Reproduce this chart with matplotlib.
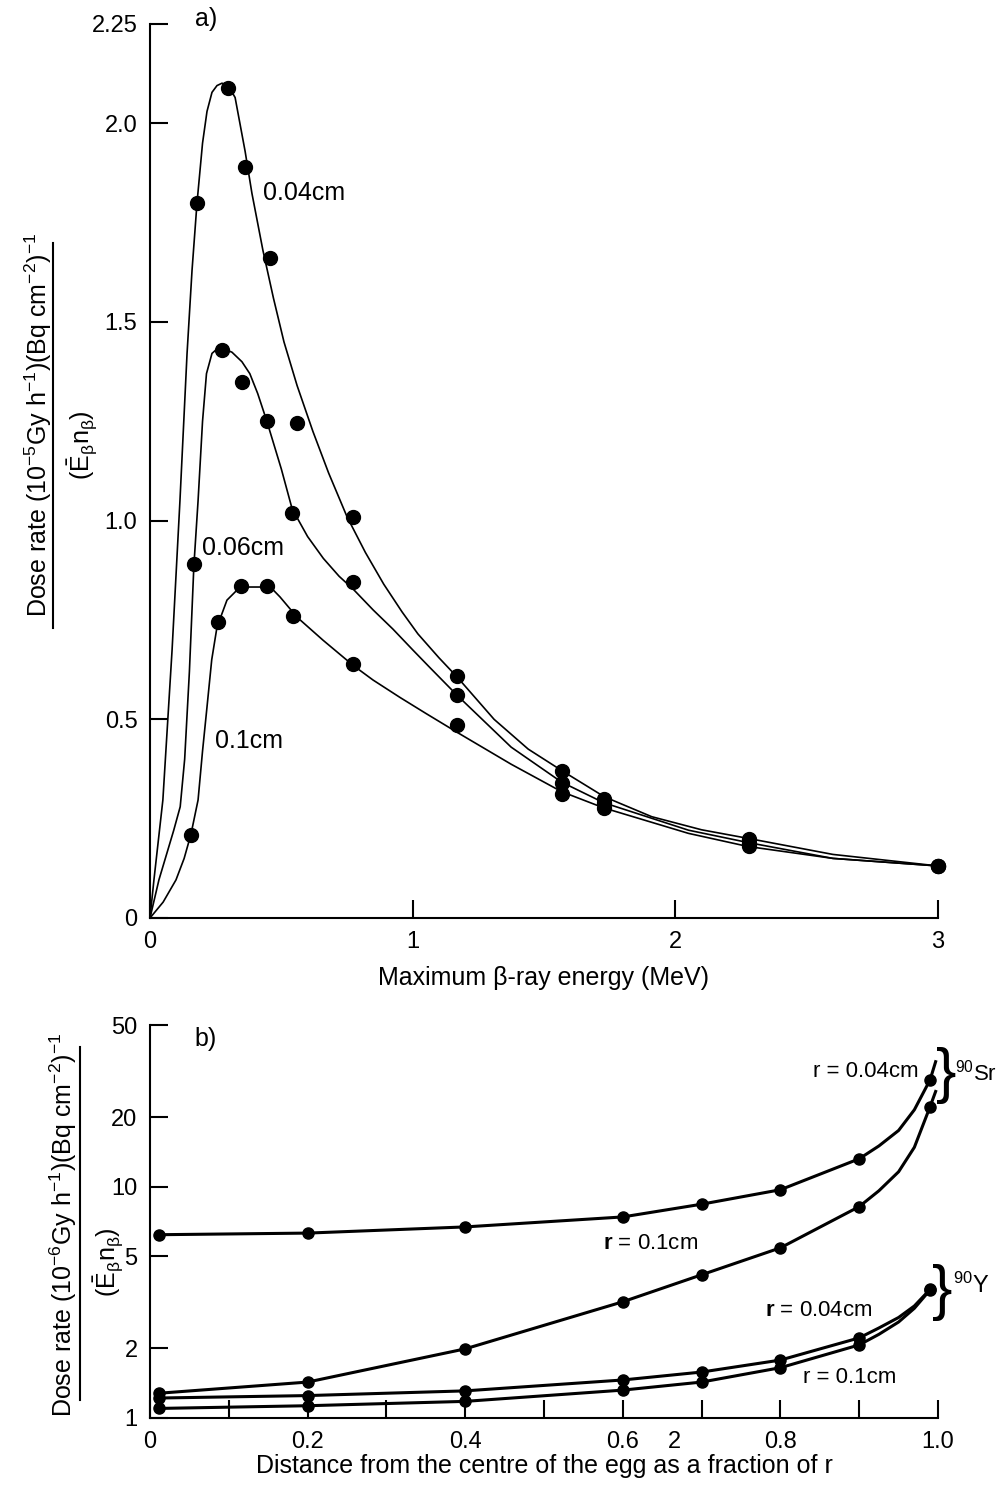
import matplotlib
matplotlib.use("Agg")
import matplotlib.pyplot as plt
from matplotlib.lines import Line2D
from matplotlib.ticker import NullLocator

plt.rcParams.update({
    "font.family": ["Liberation Sans", "DejaVu Sans"],
    "mathtext.fontset": "custom",
    "mathtext.rm": "Liberation Sans",
    "mathtext.it": "Liberation Sans",
    "mathtext.bf": "Liberation Sans:bold",
    "axes.spines.top": False,
    "axes.spines.right": False,
    "axes.linewidth": 1.5,
})

# ---- panel a: dose rate vs max beta energy ----
# smooth curves
a04_x = [0, 0.015, 0.049, 0.084, 0.114, 0.141, 0.16, 0.179, 0.20, 0.217, 0.236, 0.255, 0.274,
         0.297, 0.324, 0.362, 0.388, 0.43, 0.47, 0.51, 0.56, 0.62, 0.68, 0.75, 0.82, 0.89,
         0.96, 1.02, 1.10, 1.17, 1.31, 1.44, 1.57, 1.73, 1.91, 2.1, 2.28, 2.6, 3.0]
a04_y = [0, 0.096, 0.297, 0.674, 1.05, 1.42, 1.63, 1.80, 1.95, 2.03, 2.078, 2.095, 2.101,
         2.096, 2.065, 1.93, 1.824, 1.68, 1.56, 1.45, 1.34, 1.225, 1.12, 1.01, 0.92, 0.84,
         0.77, 0.715, 0.655, 0.606, 0.50, 0.425, 0.37, 0.305, 0.255, 0.222, 0.20, 0.16, 0.131]
a06_x = [0, 0.034, 0.09, 0.115, 0.132, 0.15, 0.167, 0.183, 0.20, 0.215, 0.236, 0.255, 0.274,
         0.312, 0.35, 0.38, 0.41, 0.445, 0.50, 0.541, 0.60, 0.66, 0.72, 0.773, 0.85, 0.925,
         1.0, 1.066, 1.17, 1.375, 1.567, 1.728, 2.05, 2.276, 2.6, 3.0]
a06_y = [0, 0.096, 0.22, 0.28, 0.40, 0.62, 0.886, 1.05, 1.25, 1.37, 1.421, 1.432, 1.434,
         1.424, 1.40, 1.37, 1.32, 1.25, 1.13, 1.03, 0.96, 0.905, 0.86, 0.828, 0.775, 0.727,
         0.675, 0.63, 0.56, 0.43, 0.342, 0.29, 0.221, 0.19, 0.15, 0.131]
a10_x = [0, 0.05, 0.099, 0.13, 0.156, 0.183, 0.20, 0.217, 0.235, 0.255, 0.293, 0.343, 0.445,
         0.47, 0.495, 0.56, 0.659, 0.773, 0.849, 0.952, 1.05, 1.17, 1.375, 1.567, 1.728, 2.05,
         2.276, 2.6, 3.0]
a10_y = [0, 0.04, 0.096, 0.15, 0.211, 0.297, 0.42, 0.531, 0.65, 0.732, 0.80, 0.833, 0.833,
         0.825, 0.808, 0.757, 0.699, 0.636, 0.599, 0.555, 0.515, 0.467, 0.387, 0.318, 0.277,
         0.213, 0.18, 0.15, 0.131]

# calculated points
p04_x = [0.179, 0.297, 0.362, 0.457, 0.773, 1.17, 1.57, 1.73, 2.28, 3.0]
p04_y = [1.80, 2.09, 1.89, 1.66, 1.01, 0.61, 0.37, 0.30, 0.20, 0.131]
p06_x = [0.167, 0.274, 0.350, 0.445, 0.559, 0.541, 0.773, 1.17, 1.57, 1.73, 2.28, 3.0]
p06_y = [0.89, 1.43, 1.35, 1.25, 1.245, 1.02, 0.845, 0.56, 0.34, 0.29, 0.19, 0.131]
p10_x = [0.156, 0.259, 0.346, 0.445, 0.544, 0.773, 1.17, 1.57, 1.73, 2.28, 3.0]
p10_y = [0.21, 0.745, 0.835, 0.835, 0.76, 0.64, 0.485, 0.312, 0.277, 0.18, 0.131]

# ---- panel b: dose rate vs distance from centre ----
b_x = [0.012, 0.2, 0.4, 0.6, 0.7, 0.8, 0.9, 0.99]
sr04 = [6.2, 6.3, 6.7, 7.4, 8.4, 9.7, 13.2, 29.0]
sr10 = [1.28, 1.43, 1.99, 3.18, 4.16, 5.44, 8.2, 22.2]
y04 = [1.22, 1.25, 1.31, 1.46, 1.58, 1.78, 2.22, 3.6]
y10 = [1.10, 1.13, 1.18, 1.32, 1.43, 1.65, 2.07, 3.58]
# drawn curves: the points plus readings of the steep end near the surface
bc_x = [0.012, 0.2, 0.4, 0.6, 0.7, 0.8, 0.9, 0.925, 0.95, 0.97, 0.99]
sr04_c = [6.2, 6.3, 6.7, 7.4, 8.4, 9.7, 13.2, 15.0, 17.5, 21.5, 29.0]
sr10_c = [1.28, 1.43, 1.99, 3.18, 4.16, 5.44, 8.2, 9.6, 11.6, 14.8, 22.2]
y04_c = [1.22, 1.25, 1.31, 1.46, 1.58, 1.78, 2.22, 2.45, 2.72, 3.05, 3.6]
y10_c = [1.10, 1.13, 1.18, 1.32, 1.43, 1.65, 2.07, 2.30, 2.60, 2.98, 3.58]
sr_tail_x = [0.99, 0.997]
sr04_tail = [29.0, 34.7]
sr10_tail = [22.2, 25.8]

W, H = 1000, 1490
fig = plt.figure(figsize=(W / 100, H / 100), dpi=100)

def fx(px):
    return px / W

def fy(py):
    return 1 - py / H

TICK = dict(direction="in", length=13, width=1.5, labelsize=17, pad=9)

# ---------------- panel a ----------------
ax = fig.add_axes([fx(150), fy(918), fx(938) - fx(150), fy(24) - fy(918)])
for cx, cy in [(a04_x, a04_y), (a06_x, a06_y), (a10_x, a10_y)]:
    ax.plot(cx, cy, color="black", lw=1.2)
for px_, py_ in [(p04_x, p04_y), (p06_x, p06_y), (p10_x, p10_y)]:
    ax.plot(px_, py_, "o", color="black", ms=10, clip_on=False)
ax.set_xlim(0, 3)
ax.set_ylim(0, 2.25)
ax.set_xticks([0, 1, 2, 3])
ax.set_xticklabels(["0", "1", "2", "3"])
ax.set_yticks([0, 0.5, 1.0, 1.5, 2.0, 2.25])
ax.set_yticklabels(["0", "0.5", "1.0", "1.5", "2.0", "2.25"])
ax.tick_params(**TICK)
ax.set_xlabel("Maximum \u03b2-ray energy (MeV)", fontsize=18, labelpad=10)
ax.text(0.171, 2.262, "a)", fontsize=18, ha="left", va="center", clip_on=False)
ax.text(0.43, 1.824, "0.04cm", fontsize=18, ha="left", va="center")
ax.text(0.198, 0.931, "0.06cm", fontsize=18, ha="left", va="center")
ax.text(0.247, 0.445, "0.1cm", fontsize=18, ha="left", va="center")

# y label as a fraction
fig.text(fx(38), fy(425), r"Dose rate (10$^{-5}$Gy h$^{-1}$)(Bq cm$^{-2}$)$^{-1}$",
         rotation=90, ha="center", va="center", fontsize=18)
fig.add_artist(Line2D([fx(53), fx(53)], [fy(243), fy(628)], color="black", lw=1.5))
fig.text(fx(82), fy(445), r"$(\bar{\mathrm{E}}_{\beta}\mathrm{n}_{\beta})$",
         rotation=90, ha="center", va="center", fontsize=18)

# ---------------- panel b ----------------
bx = fig.add_axes([fx(150), fy(1418), fx(938) - fx(150), fy(1025) - fy(1418)])
bx.set_yscale("log")
for cy in [sr04_c, sr10_c, y04_c, y10_c]:
    bx.plot(bc_x, cy, color="black", lw=2.2, clip_on=False)
for cy in [sr04, sr10, y04, y10]:
    bx.plot(b_x, cy, "o", color="black", ms=8, clip_on=False)
bx.plot(sr_tail_x, sr04_tail, color="black", lw=2.2, clip_on=False)
bx.plot(sr_tail_x, sr10_tail, color="black", lw=2.2, clip_on=False)
bx.set_xlim(0, 1.0)
bx.set_ylim(1, 50)
bx.set_yticks([1, 2, 5, 10, 20, 50])
bx.set_yticklabels(["1", "2", "5", "10", "20", "50"])
bx.yaxis.set_minor_locator(NullLocator())
bx.set_xticks([0, 0.2, 0.4, 0.6, 0.8, 1.0])
bx.set_xticklabels(["0", "0.2", "0.4", "0.6", "0.8", "1.0"])
bx.set_xticks([0.1, 0.3, 0.5, 0.7, 0.9], minor=True)
bx.tick_params(which="both", **TICK)
bx.set_xlabel("Distance from the centre of the egg as a fraction of r", fontsize=18, labelpad=1)
# stray "2" printed among the tick labels in the original
bx.annotate("2", xy=(0.666, 0), xycoords=("data", "axes fraction"),
            xytext=(0, -9), textcoords="offset points", fontsize=17,
            ha="center", va="top")

bx.text(0.057, 43.3, "b)", fontsize=18, ha="left", va="center")
bx.text(0.975, 31.5, "r = 0.04cm", fontsize=16, ha="right", va="center")
bx.text(0.575, 5.7, r"$\mathbf{r}$ = 0.1cm", fontsize=16, ha="left", va="center")
bx.text(0.780, 2.93, r"$\mathbf{r}$ = 0.04cm", fontsize=16, ha="left", va="center")
bx.text(0.829, 1.5, "r = 0.1cm", fontsize=16, ha="left", va="center")
bx.text(0.997, 30.2, "}", fontsize=44, ha="left", va="center", clip_on=False)
bx.text(1.021, 31.0, r"$^{90}$Sr", fontsize=16, ha="left", va="center", clip_on=False)
bx.text(0.992, 3.48, "}", fontsize=44, ha="left", va="center", clip_on=False)
bx.text(1.019, 3.76, r"$^{90}$Y", fontsize=17, ha="left", va="center", clip_on=False)

fig.text(fx(63), fy(1225), r"Dose rate (10$^{-6}$Gy h$^{-1}$)(Bq cm$^{-2}$)$^{-1}$",
         rotation=90, ha="center", va="center", fontsize=18)
fig.add_artist(Line2D([fx(80), fx(80)], [fy(1047), fy(1400)], color="black", lw=1.5))
fig.text(fx(108), fy(1262), r"$(\bar{\mathrm{E}}_{\beta}\mathrm{n}_{\beta})$",
         rotation=90, ha="center", va="center", fontsize=18)

fig.savefig("out.png", dpi=100)
